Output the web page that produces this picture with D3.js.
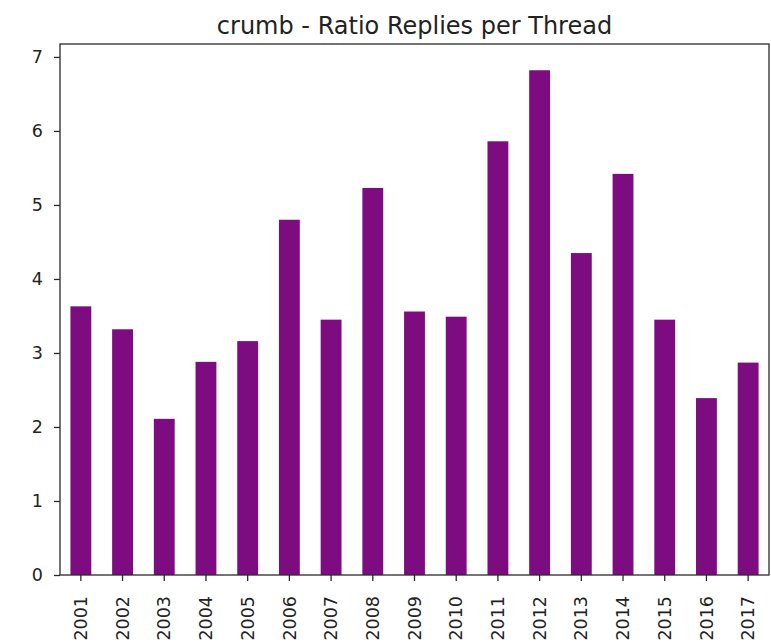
<!DOCTYPE html>
<html>
<head>
<meta charset="utf-8">
<script src="https://cdn.jsdelivr.net/npm/d3@7/dist/d3.min.js"></script>
<style>
  html, body { margin: 0; padding: 0; background: #fff; }
  svg { display: block; }
  text { font-family: "DejaVu Sans", sans-serif; fill: #222; }
</style>
</head>
<body>
<svg id="chart" width="771" height="644"></svg>
<script>
// Yearly ratio of replies per thread
const years = ["2001","2002","2003","2004","2005","2006","2007","2008","2009",
               "2010","2011","2012","2013","2014","2015","2016","2017"];
const ratios = [3.63, 3.32, 2.11, 2.88, 3.16, 4.80, 3.45, 5.23, 3.56,
                3.49, 5.86, 6.82, 4.35, 5.42, 3.45, 2.39, 2.87];
const yTicks = [0, 1, 2, 3, 4, 5, 6, 7];
const chartTitle = "crumb - Ratio Replies per Thread";

const svg = d3.select("#chart");
const plot = { left: 60, right: 769, top: 44, bottom: 575 };
const barColor = "#7d0c80";
const axisColor = "#2a2a2a";

const x = d3.scaleBand()
  .domain(years)
  .range([plot.left, plot.right])
  .paddingInner(0.5)
  .paddingOuter(0.25);

const yMax = d3.max(ratios) * 1.052;
const y = d3.scaleLinear()
  .domain([0, yMax])
  .range([plot.bottom, plot.top]);

// bars
svg.append("g")
  .selectAll("rect")
  .data(years.map((yr, i) => ({ yr, v: ratios[i] })))
  .join("rect")
  .attr("x", d => x(d.yr))
  .attr("width", x.bandwidth())
  .attr("y", d => y(d.v))
  .attr("height", d => y(0) - y(d.v))
  .attr("fill", barColor);

// y axis
const yAxis = svg.append("g")
  .attr("transform", `translate(${plot.left},0)`)
  .call(d3.axisLeft(y).tickValues(yTicks).tickFormat(d3.format("d"))
    .tickSize(6).tickPadding(11));
yAxis.select(".domain").remove();
yAxis.selectAll(".tick line").attr("stroke", axisColor).attr("stroke-width", 1.3);
yAxis.selectAll(".tick text")
  .style("font-size", "17.5px").attr("fill", "#222");

// x axis
const xAxis = svg.append("g")
  .attr("transform", `translate(0,${plot.bottom})`)
  .call(d3.axisBottom(x).tickSize(6).tickPadding(0));
xAxis.select(".domain").remove();
xAxis.selectAll(".tick line").attr("stroke", axisColor).attr("stroke-width", 1.3);
xAxis.selectAll(".tick text")
  .style("font-size", "17.5px")
  .attr("fill", "#222")
  .attr("text-anchor", "end")
  .attr("dy", "0.35em")
  .attr("transform", "translate(0,21) rotate(-90)")
  .attr("x", 0)
  .attr("y", 0);

// frame around the plot area
svg.append("rect")
  .attr("x", plot.left)
  .attr("y", plot.top)
  .attr("width", plot.right - plot.left)
  .attr("height", plot.bottom - plot.top)
  .attr("fill", "none")
  .attr("stroke", axisColor)
  .attr("stroke-width", 1.3);

// title
svg.append("text")
  .attr("x", (plot.left + plot.right) / 2)
  .attr("y", 34)
  .attr("text-anchor", "middle")
  .style("font-size", "24px")
  .text(chartTitle);
</script>
</body>
</html>
